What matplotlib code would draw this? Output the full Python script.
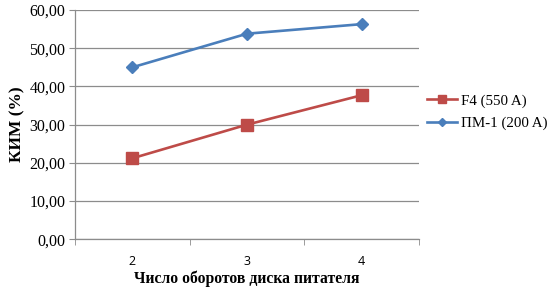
import numpy as np
import matplotlib.pyplot as plt

categories = ["2", "3", "4"]
f4_values = [21.2, 30.0, 37.7]
pm1_values = [45.0, 53.8, 56.3]
series_names = ["F4 (550 A)", "ПМ-1 (200 A)"]
y_ticks = [0, 10, 20, 30, 40, 50, 60]

serif = "Liberation Serif"
grid_col = "#8c8c8c"

fig = plt.figure(figsize=(5.51, 2.90), dpi=100)
ax = fig.add_axes([75/551, 1 - 239.3/290, 344/551, 229.3/290])

x = np.arange(len(categories))
ax.plot(x, f4_values, color="#BE4B48", lw=1.9, marker="s", ms=8.5,
        label=series_names[0])
ax.plot(x, pm1_values, color="#4A7EBB", lw=1.9, marker="D", ms=6.5,
        label=series_names[1])

ax.set_xlim(-0.5, len(categories) - 0.5)
ax.set_ylim(0, 60)
ax.set_yticks(y_ticks)
ax.set_yticklabels(["%d,00" % v for v in y_ticks], fontfamily=serif, fontsize=11.5)
ax.yaxis.grid(True, color=grid_col, lw=0.9)
ax.set_axisbelow(True)

ax.set_xticks(x)
ax.set_xticklabels(categories, fontfamily="Open Sans", fontsize=9)
ax.set_xticks(np.arange(-0.5, len(categories)), minor=True)
ax.tick_params(axis="x", which="major", length=0, pad=11)
ax.tick_params(axis="x", which="minor", length=4, color=grid_col, direction="out")
ax.tick_params(axis="y", length=4, color=grid_col, pad=3)

for side in ["top", "right"]:
    ax.spines[side].set_visible(False)
for side in ["left", "bottom"]:
    ax.spines[side].set_color(grid_col)
    ax.spines[side].set_linewidth(0.9)

ax.set_ylabel("КИМ (%)", fontfamily=serif, fontweight="bold", fontsize=12.5, labelpad=3)
ax.set_xlabel("Число оборотов диска питателя", fontfamily=serif, fontweight="bold",
              fontsize=11.3, labelpad=2)

fig.legend(loc="upper left", bbox_to_anchor=(421/551, 1 - 88/290), frameon=False,
           prop={"family": serif, "size": 10.8}, handlelength=2.0, handletextpad=0.25,
           labelspacing=0.6, borderaxespad=0, markerscale=0.7)

fig.savefig("out.png", dpi=100)
